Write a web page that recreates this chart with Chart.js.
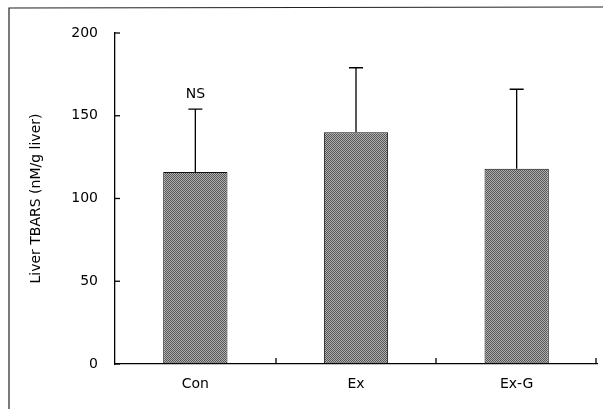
<!DOCTYPE html>
<html>
<head>
<meta charset="utf-8">
<script src="https://cdn.jsdelivr.net/npm/chart.js@4.4.0/dist/chart.umd.min.js"></script>
<style>
  html, body { margin: 0; padding: 0; background: #fff; }
  #wrap { width: 603px; height: 410px; position: relative; }
</style>
</head>
<body>
<div id="wrap"><canvas id="tbarsChart"></canvas></div>
<script>
const groups = ["Con", "Ex", "Ex-G"];
const tbarsMean = [116, 140, 118];
const tbarsErr = [38, 39, 48];
const sigLabels = ["NS", "", ""];
const yTicks = [0, 50, 100, 150, 200];

// grey dithered fill, like the scanned halftone
function makePattern() {
    const c = document.createElement("canvas");
    c.width = 4; c.height = 4;
    const p = c.getContext("2d");
    p.fillStyle = "#b0b0b0";
    p.fillRect(0, 0, 4, 4);
    p.fillStyle = "#555";
    for (let y = 0; y < 4; y++) {
        for (let x = 0; x < 4; x++) {
            if ((x + y) % 2 === 0) p.fillRect(x, y, 1, 1);
        }
    }
    return p.createPattern(c, "repeat");
}

const fontFamily = "'DejaVu Sans', 'Open Sans', sans-serif";

const extras = {
    id: "extras",
    beforeDraw(chart) {
        const ctx = chart.ctx;
        ctx.save();
        ctx.strokeStyle = "#222";
        ctx.lineWidth = 1.2;
        ctx.beginPath();
        ctx.moveTo(9, 409);
        ctx.lineTo(9, 8);
        ctx.lineTo(603, 7);
        ctx.stroke();
        ctx.restore();
    },
    afterDatasetsDraw(chart) {
        const ctx = chart.ctx;
        const x = chart.scales.x, y = chart.scales.y;
        const meta = chart.getDatasetMeta(0);
        ctx.save();
        ctx.strokeStyle = "#000";
        ctx.lineWidth = 1.3;
        // error bars (upper only)
        meta.data.forEach((bar, i) => {
            const top = y.getPixelForValue(tbarsMean[i] + tbarsErr[i]);
            ctx.beginPath();
            ctx.moveTo(bar.x, bar.y);
            ctx.lineTo(bar.x, top);
            ctx.moveTo(bar.x - 7, top);
            ctx.lineTo(bar.x + 7, top);
            ctx.stroke();
            if (sigLabels[i]) {
                ctx.fillStyle = "#000";
                ctx.font = "14px " + fontFamily;
                ctx.textAlign = "center";
                ctx.textBaseline = "bottom";
                ctx.fillText(sigLabels[i], bar.x, top - 8);
            }
        });
        // inner ticks on y axis
        yTicks.forEach(v => {
            const py = y.getPixelForValue(v);
            ctx.beginPath();
            ctx.moveTo(x.left, py);
            ctx.lineTo(x.left + 5, py);
            ctx.stroke();
        });
        // inner ticks between categories on x axis
        const step = (x.right - x.left) / groups.length;
        for (let k = 1; k <= groups.length; k++) {
            const px = Math.round(x.left + step * k) - (k === groups.length ? 1 : 0);
            ctx.beginPath();
            ctx.moveTo(px, y.bottom);
            ctx.lineTo(px, y.bottom - 6);
            ctx.stroke();
        }
        ctx.restore();
    }
};

document.addEventListener("DOMContentLoaded", function () {
    const ctx = document.getElementById("tbarsChart").getContext("2d");

    new Chart(ctx, {
        type: "bar",
        data: {
            labels: groups,
            datasets: [{
                label: "Liver TBARS",
                data: tbarsMean,
                backgroundColor: makePattern(),
                borderColor: "#111",
                borderWidth: 1,
                borderSkipped: false,
                barPercentage: 0.8,
                categoryPercentage: 0.5
            }]
        },
        options: {
            responsive: true,
            maintainAspectRatio: false,
            animation: false,
            layout: { padding: { left: 28, right: 6, top: 33, bottom: 0 } },
            plugins: {
                legend: { display: false },
                tooltip: { enabled: false }
            },
            scales: {
                x: {
                    grid: { display: true, drawOnChartArea: false, drawTicks: false },
                    border: { display: true, color: "#000", width: 1.3 },
                    ticks: {
                        color: "#000",
                        padding: 12,
                        font: { family: fontFamily, size: 14 }
                    },
                    afterFit: s => { s.height = 46; }
                },
                y: {
                    min: 0,
                    max: 200,
                    afterBuildTicks: s => { s.ticks = yTicks.map(v => ({ value: v })); },
                    grid: { display: true, drawOnChartArea: false, drawTicks: false },
                    border: { display: true, color: "#000", width: 1.3 },
                    ticks: {
                        color: "#000",
                        padding: 17,
                        font: { family: fontFamily, size: 14 }
                    },
                    title: {
                        display: true,
                        text: "Liver TBARS (nM/g liver)",
                        color: "#000",
                        font: { family: fontFamily, size: 14 },
                        padding: { top: 0, bottom: 8 }
                    },
                    afterFit: s => { s.width = 87; }
                }
            }
        },
        plugins: [extras]
    });
});
</script>
</body>
</html>
